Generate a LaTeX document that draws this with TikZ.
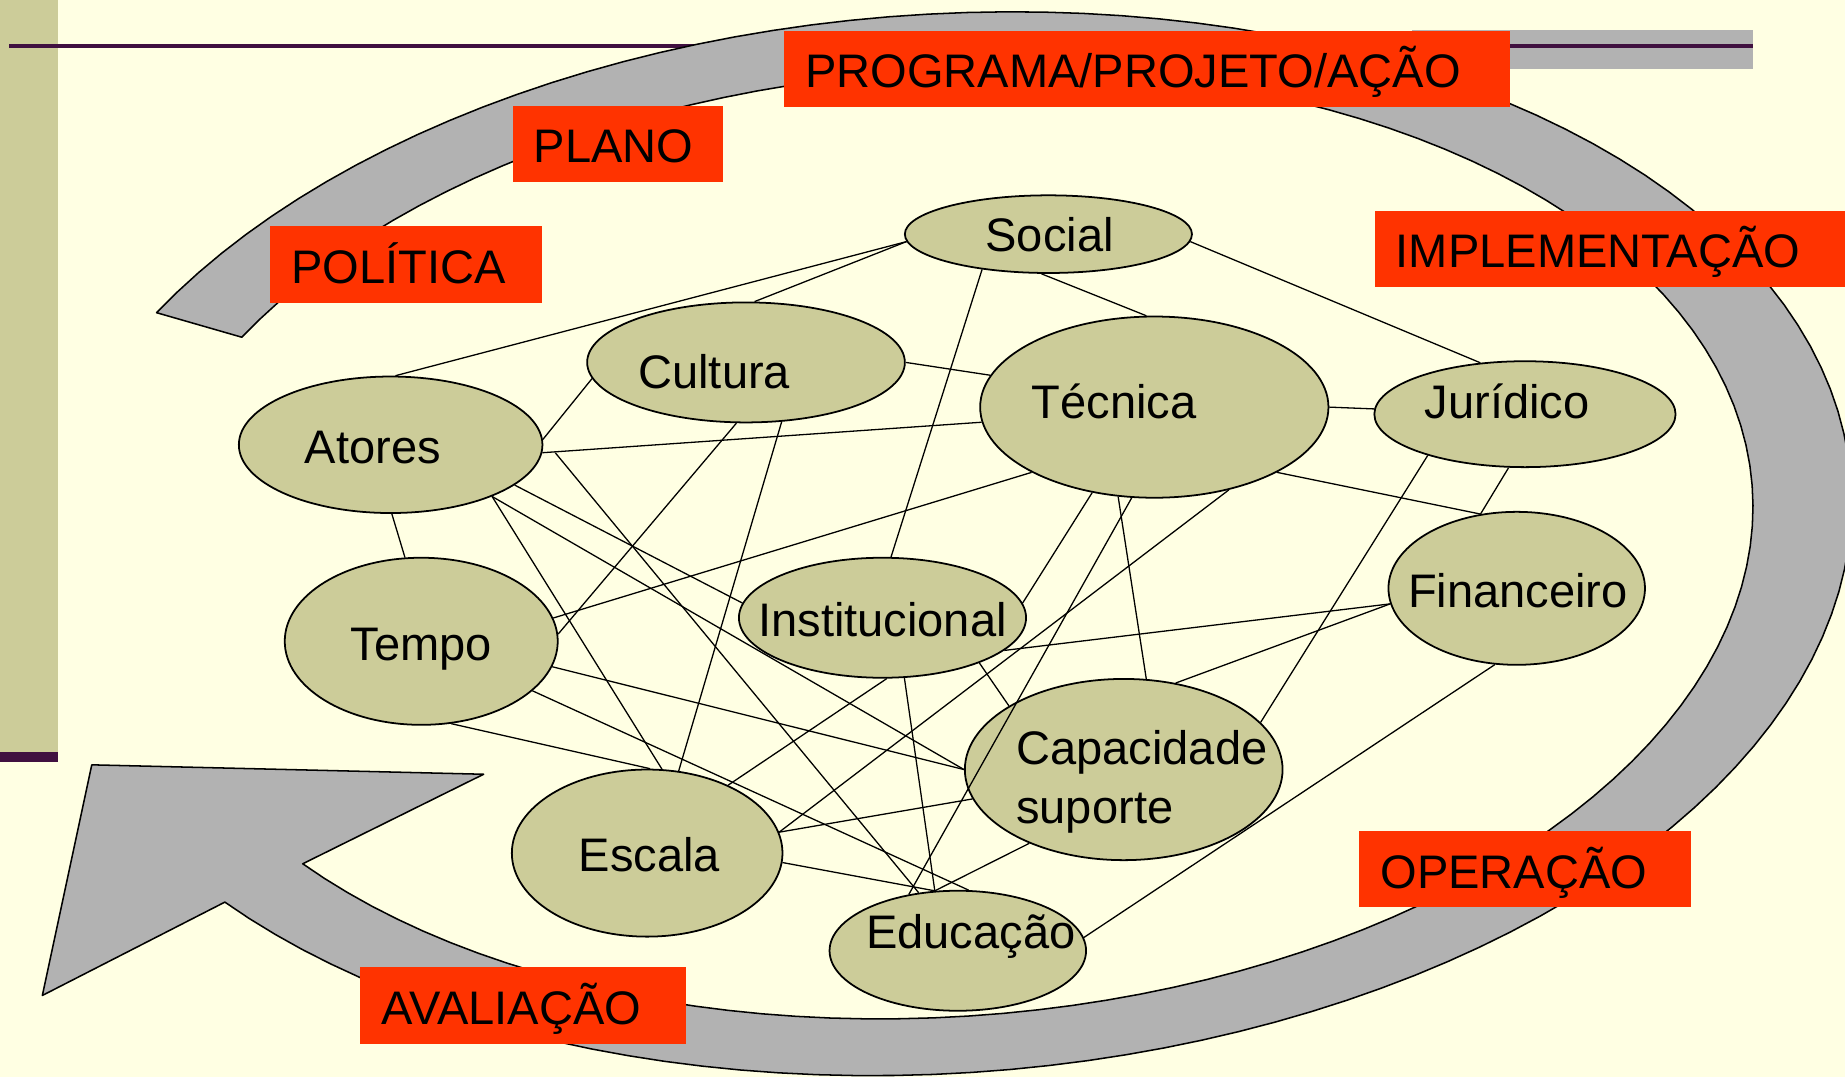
\documentclass[tikz,border=0pt]{standalone}
\usepackage{fontspec}
\setmainfont{Liberation Sans}
\usetikzlibrary{shapes.geometric,calc}

\definecolor{paper}{RGB}{255,255,227}
\definecolor{olive}{RGB}{204,204,153}
\definecolor{slideplum}{RGB}{64,16,64}
\definecolor{bandgray}{RGB}{178,178,178}
\definecolor{tagred}{RGB}{255,51,0}

% tilted ellipse of the cycle arrow: centre, cos/sin of the tilt
\def\cx{800.9}\def\cy{462.1}\def\ca{0.99764}\def\sa{0.06871}

\begin{document}
\begin{tikzpicture}[x=1pt,y=-1pt,line join=round,
  blob/.style={ellipse,draw,line width=1.5pt,fill=olive,inner sep=0pt},
  word/.style={font=\fontsize{40}{50}\selectfont,inner sep=0pt,anchor=base},
  link/.style={line width=1.1pt},
  tag/.style={anchor=north west,fill=tagred,inner xsep=18pt,inner ysep=0pt,minimum height=65pt,
    text height=35pt,text depth=3pt,align=left,font=\fontsize{40}{50}\selectfont}]
\useasboundingbox (0,0) rectangle (1568,915);
\clip (0,0) rectangle (1568,915);
\fill[paper] (0,0) rectangle (1568,915);
% slide decoration
\fill[olive] (0,0) rectangle (49,639);
\fill[slideplum] (0,639) rectangle (49,648);
\fill[bandgray] (1200,25.5) rectangle (1490,58.6);
\draw[slideplum,line width=3.4pt] (8,39.5) -- (1490,39.5);
% the cycle arrow (outer edge, head, inner edge back to the tail)
\draw[fill=bandgray,line width=1.3pt]
  plot[domain=212.5:504.4,samples=120,variable=\t]
    ({\cx+774*cos(\t)*\ca+450*sin(\t)*\sa},{\cy-774*cos(\t)*\sa+450*sin(\t)*\ca})
  -- (36,846) -- (78,650) -- (411,658)
  -- plot[domain=504.4:212.5,samples=120,variable=\t]
    ({\cx+690*cos(\t)*\ca+402*sin(\t)*\sa},{\cy-690*cos(\t)*\sa+402*sin(\t)*\ca})
  -- cycle;
% aspects
\foreach \n/\x/\y/\w/\h in {soc/891/199/244/66,cul/634/308/270/102,tec/981/346/296/154,
  jur/1296/352/256/90,ato/332/378/258/116,fin/1289/500/218/130,tem/358/545/232/142,
  ins/750/525/244/102,cap/955/654/270/154,esc/550/725/230/142,edu/814/808/218/102}
  \node[blob,minimum width=\w pt,minimum height=\h pt] (\n) at (\x,\y) {};
\foreach \n/\x/\y/\t in {soc/892/214/Social,cul/607/330/Cultura,tec/947/356/Técnica,
  jur/1281/356/Jurídico,ato/317/394/Atores,fin/1290/516/Financeiro,tem/358/561/Tempo,
  ins/750/541/Institucional,esc/552/741/Escala,edu/825/806/Educação}
  \node[word] (\n-txt) at (\x,\y) {\t};
\node[word,anchor=base west,align=left] (cap-txt) at (863.5,700) {Capacidade\\suporte};
% links
\foreach \a/\b in {soc.183/ato.86,soc.183/cul.82,soc.208/ins.82,soc.260/tec.95,soc.357/jur.131,
  cul.0/tec.169,tec.0/jur.178,ato.357/tec.185,ato.2/cul.186,ato.271/tem.101,tem.10/tec.208,
  tem.3/cul.261,tem.349/cap.180,tem.336/edu.80,tem.290/esc.88,ato.342/ins.174,ato.333/esc.80,
  ato.333/cap.180,cul.301/esc.69,tec.234/ins.6,tec.256/edu.131,tec.248/cap.76,tec.312/esc.9,
  tec.332/fin.116,jur.253/fin.116,jur.203/cap.19,fin.187/ins.345,fin.187/cap.59,fin.254/edu.6,
  ins.335/cap.151,ins.274/esc.40,ins.290/edu.111,cap.191/esc.9,cap.218/edu.111,esc.356/edu.111}
  \draw[link] (\a) -- (\b);
\draw[link] ([xshift=11pt]ato.357) -- (edu.124);
% stages
\node[tag,text width=581pt] (prog) at (666,26) {PROGRAMA/PROJETO/AÇÃO};
\node[tag,text width=143pt] (plano) at (435.6,89.5) {PLANO};
\node[tag,text width=195pt] (pol) at (229.6,192) {POLÍTICA};
\node[tag,text width=364pt] (impl) at (1168,179) {IMPLEMENTAÇÃO};
\node[tag,text width=246pt] (oper) at (1155,706) {OPERAÇÃO};
\node[tag,text width=241pt] (aval) at (306,822) {AVALIAÇÃO};
\end{tikzpicture}
\end{document}
